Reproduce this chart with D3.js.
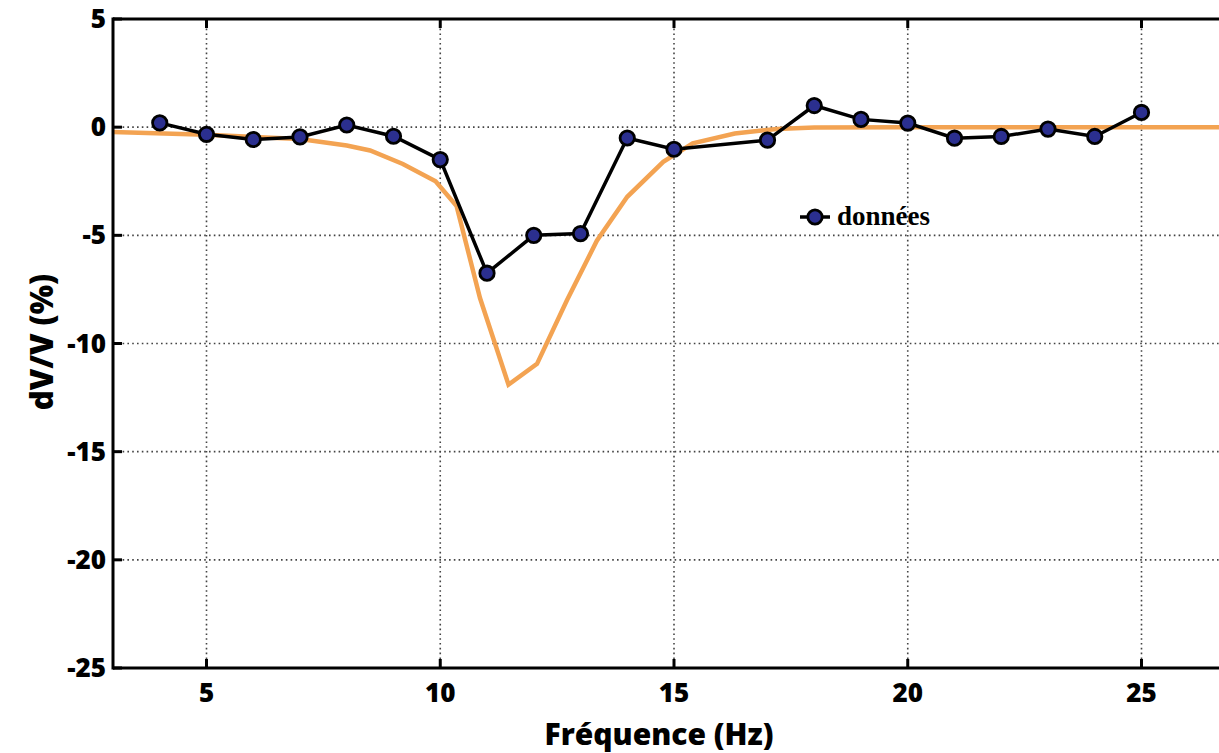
<!DOCTYPE html>
<html>
<head>
<meta charset="utf-8">
<script src="https://cdn.jsdelivr.net/npm/d3@7"></script>
<style>
  html, body { margin: 0; padding: 0; background: #fff; overflow: hidden; }
  svg { display: block; }
</style>
</head>
<body>
<svg id="chart" width="1219" height="753"></svg>
<script>
// Measured dV/V at each frequency (Hz)
const freqData = [4, 5, 6, 7, 8, 9, 10, 11, 12, 13, 14, 15, 17, 18, 19, 20, 21, 22, 23, 24, 25];
const dvvData  = [0.2, -0.33, -0.57, -0.45, 0.1, -0.42, -1.5, -6.75, -5.0, -4.92, -0.5, -1.02, -0.6, 1.0, 0.36, 0.19, -0.51, -0.43, -0.09, -0.43, 0.68];

// Model curve
const freqModel = [3, 5, 7, 8, 8.5, 9.2, 9.9, 10.35, 10.85, 11.46, 12.07, 12.71, 13.35, 14.0, 14.77, 15.4, 16.3, 17.2, 18, 20, 27];
const dvvModel  = [-0.22, -0.35, -0.55, -0.85, -1.08, -1.7, -2.5, -3.65, -7.9, -11.9, -10.94, -8.0, -5.25, -3.22, -1.6, -0.75, -0.29, -0.08, -0.02, 0, 0];

const xTicks = [5, 10, 15, 20, 25];
const yTicks = [5, 0, -5, -10, -15, -20, -25];
const legendLabel = "données";

const svg = d3.select("#chart");
const mLeft = 113, mTop = 19, mBottom = 668, mRight = 1235;

const x = d3.scaleLinear().domain([3, 27]).range([mLeft, mRight]);
const y = d3.scaleLinear().domain([-25, 5]).range([mBottom, mTop]);

const tickFont = "'Open Sans', sans-serif";

// dotted grid
const grid = svg.append("g");
grid.selectAll("line.gx").data(xTicks).join("line")
  .attr("x1", d => x(d)).attr("x2", d => x(d))
  .attr("y1", mTop).attr("y2", mBottom)
  .attr("stroke", "#444").attr("stroke-width", 1.6).attr("stroke-dasharray", "1.6,3.2");
grid.selectAll("line.gy").data(yTicks.filter(d => d < 5 && d > -25)).join("line")
  .attr("x1", mLeft).attr("x2", mRight)
  .attr("y1", d => y(d)).attr("y2", d => y(d))
  .attr("stroke", "#444").attr("stroke-width", 1.6).attr("stroke-dasharray", "1.6,3.2");

// model curve
svg.append("path")
  .datum(freqModel.map((f, i) => [f, dvvModel[i]]))
  .attr("fill", "none")
  .attr("stroke", "#f3a352")
  .attr("stroke-width", 4.5)
  .attr("stroke-linejoin", "miter")
  .attr("d", d3.line().x(d => x(d[0])).y(d => y(d[1])));

// measured series
const pts = freqData.map((f, i) => [f, dvvData[i]]);
svg.append("path")
  .datum(pts)
  .attr("fill", "none")
  .attr("stroke", "#000")
  .attr("stroke-width", 3.5)
  .attr("d", d3.line().x(d => x(d[0])).y(d => y(d[1])));
svg.append("g").selectAll("circle").data(pts).join("circle")
  .attr("cx", d => x(d[0])).attr("cy", d => y(d[1]))
  .attr("r", 7.2)
  .attr("fill", "#2b2f8f")
  .attr("stroke", "#000")
  .attr("stroke-width", 2.8);

// axes frame
const axisG = svg.append("g");
axisG.append("line").attr("x1", mLeft).attr("x2", mRight).attr("y1", mBottom).attr("y2", mBottom)
  .attr("stroke", "#000").attr("stroke-width", 3);
axisG.append("line").attr("x1", mLeft).attr("x2", mRight).attr("y1", mTop).attr("y2", mTop)
  .attr("stroke", "#000").attr("stroke-width", 3);
axisG.append("line").attr("x1", mLeft).attr("x2", mLeft).attr("y1", mTop - 1.5).attr("y2", mBottom + 1.5)
  .attr("stroke", "#000").attr("stroke-width", 3);

// inward tick marks
axisG.selectAll("line.tb").data(xTicks).join("line")
  .attr("x1", d => x(d)).attr("x2", d => x(d))
  .attr("y1", mBottom).attr("y2", mBottom - 9)
  .attr("stroke", "#000").attr("stroke-width", 3);
axisG.selectAll("line.tt").data(xTicks).join("line")
  .attr("x1", d => x(d)).attr("x2", d => x(d))
  .attr("y1", mTop).attr("y2", mTop + 9)
  .attr("stroke", "#000").attr("stroke-width", 3);
axisG.selectAll("line.tl").data(yTicks).join("line")
  .attr("x1", mLeft).attr("x2", mLeft + 9)
  .attr("y1", d => y(d)).attr("y2", d => y(d))
  .attr("stroke", "#000").attr("stroke-width", 3);

// tick labels
axisG.selectAll("text.xl").data(xTicks).join("text")
  .attr("x", d => x(d)).attr("y", mBottom + 34)
  .attr("text-anchor", "middle")
  .attr("font-family", tickFont).attr("font-weight", 800).attr("font-size", 26)
  .attr("fill", "#000")
  .text(d => d);
axisG.selectAll("text.yl").data(yTicks).join("text")
  .attr("x", mLeft - 7).attr("y", d => y(d) + 9)
  .attr("text-anchor", "end")
  .attr("font-family", tickFont).attr("font-weight", 800).attr("font-size", 26)
  .attr("fill", "#000")
  .text(d => d);

// axis titles
svg.append("text")
  .attr("x", 659).attr("y", 745)
  .attr("text-anchor", "middle")
  .attr("font-family", tickFont).attr("font-weight", 800).attr("font-size", 30)
  .attr("fill", "#000")
  .text("Fréquence (Hz)");
svg.append("text")
  .attr("transform", "translate(53,342) rotate(-90)")
  .attr("text-anchor", "middle")
  .attr("font-family", tickFont).attr("font-weight", 800).attr("font-size", 31)
  .attr("fill", "#000")
  .text("dV/V (%)");

// legend
const lg = svg.append("g").attr("transform", "translate(815,217)");
lg.append("line").attr("x1", -15).attr("x2", 15).attr("y1", 0).attr("y2", 0)
  .attr("stroke", "#000").attr("stroke-width", 3.5);
lg.append("circle").attr("r", 7.2).attr("fill", "#2b2f8f").attr("stroke", "#000").attr("stroke-width", 2.8);
lg.append("text").attr("x", 22).attr("y", 8)
  .attr("font-family", "'Liberation Serif', 'Times New Roman', serif")
  .attr("font-weight", 700).attr("font-size", 27)
  .attr("fill", "#000")
  .text(legendLabel);
</script>
</body>
</html>
